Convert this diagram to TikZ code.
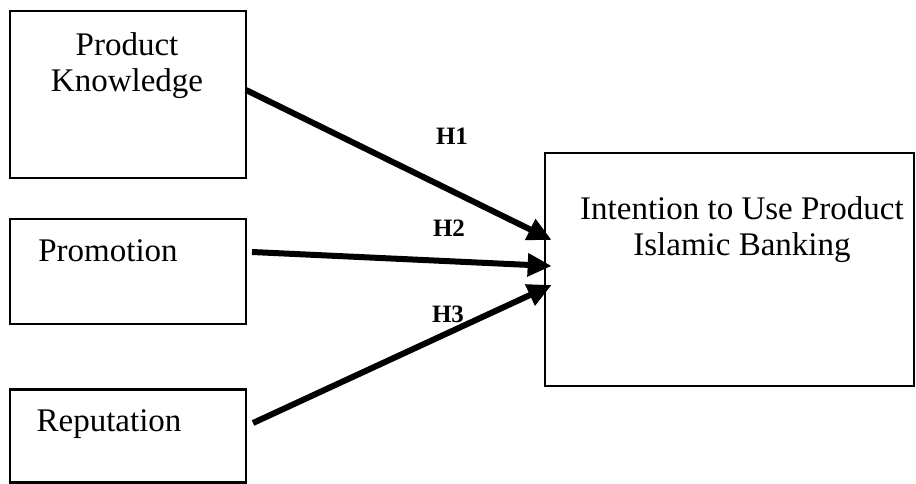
\documentclass[tikz,border=0pt]{standalone}
\usepackage{fontspec}
\setmainfont{Liberation Serif}
\usetikzlibrary{arrows.meta}
\begin{document}
\begin{tikzpicture}[x=1pt,y=-1pt,
  box/.style={draw, line width=2.6pt, rectangle, inner sep=0pt},
  lbl/.style={inner sep=0pt, font=\fontsize{33}{36}\selectfont, align=center},
  hyp/.style={inner sep=0pt, font=\fontsize{25}{27}\selectfont\bfseries},
  conn/.style={line width=6pt, -{Triangle[length=24pt,width=22pt]}}]
\useasboundingbox (0,0) rectangle (916,484);
\node[box, minimum width=236pt, minimum height=167pt] (b1) at (128,94.5) {};
\node[box, minimum width=236pt, minimum height=105pt] (b2) at (128,271.5) {};
\node[box, minimum width=236pt, minimum height=93pt] (b3) at (128,436) {};
\node[box, minimum width=369pt, minimum height=233pt] (b4) at (729.5,269.5) {};
\node[lbl] (t1) at (127,66) {Product\\Knowledge};
\node[lbl] (t2) at (108,251) {Promotion};
\node[lbl] (t3) at (109,424) {Reputation};
\node[lbl] (t4) at (742,230) {Intention to Use Product\\Islamic Banking};
\coordinate (s1) at (246,90);
\coordinate (s2) at (252,252);
\coordinate (s3) at (253,423);
\coordinate (e1) at ([xshift=8pt]b4.west |- 0,240);
\coordinate (e2) at ([xshift=8pt]b4.west |- 0,266);
\coordinate (e3) at ([xshift=8pt]b4.west |- 0,285);
\draw[conn] (s1) -- (e1);
\draw[conn] (s2) -- (e2);
\draw[conn] (s3) -- (e3);
\node[hyp] (h1) at (452,136) {H1};
\node[hyp] (h2) at (449,228) {H2};
\node[hyp] (h3) at (448,314) {H3};
\end{tikzpicture}
\end{document}
